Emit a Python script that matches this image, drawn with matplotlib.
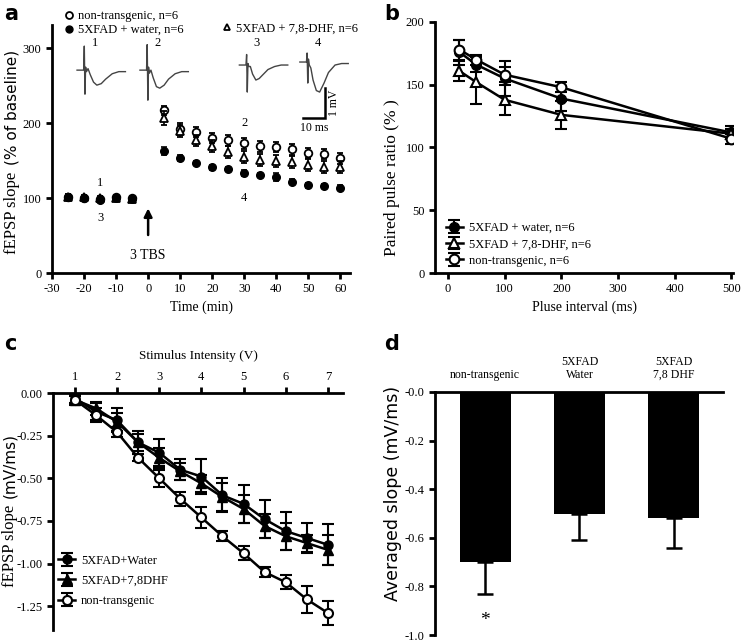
import numpy as np
import matplotlib.pyplot as plt
from matplotlib.lines import Line2D

plt.rcParams["font.family"] = ["Liberation Serif", "DejaVu Serif"]
plt.rcParams["font.size"] = 9
plt.rcParams["axes.unicode_minus"] = False
plt.rcParams["axes.linewidth"] = 2.0
plt.rcParams["xtick.major.width"] = 2.0
plt.rcParams["ytick.major.width"] = 2.0
plt.rcParams["xtick.major.size"] = 4
plt.rcParams["ytick.major.size"] = 4

# ---------- data: panel a (LTP time course) ----------
time_a = [-25, -20, -15, -10, -5, 5, 10, 15, 20, 25, 30, 35, 40, 45, 50, 55, 60]
ltp_nontg = [101, 100, 99, 101, 100, 217, 192, 188, 180, 177, 173, 169, 168, 165, 160, 159, 153]
ltp_nontg_err = [4, 3, 3, 3, 3, 6, 8, 7, 7, 7, 7, 7, 7, 7, 7, 7, 7]
ltp_water = [102, 100, 98, 100, 99, 163, 153, 147, 141, 139, 133, 131, 128, 122, 117, 116, 114]
ltp_water_err = [3, 3, 3, 3, 3, 5, 4, 3, 3, 3, 4, 3, 5, 3, 3, 3, 3]
ltp_dhf = [101, 101, 100, 100, 99, 207, 190, 177, 169, 161, 155, 151, 150, 148, 144, 142, 141]
ltp_dhf_err = [4, 3, 3, 3, 3, 9, 8, 7, 8, 8, 8, 8, 8, 8, 8, 8, 8]

# example fEPSP traces (ms, mV) shown above panel a
trace_t = [0, 3, 3.3, 3.6, 3.9, 4.3, 5, 6, 7.5, 9, 11, 13, 16, 19, 22]
trace_1 = [0, 0, 0.8, -0.8, 0.1, -0.05, 0.05, -0.15, -0.4, -0.5, -0.45, -0.3, -0.12, -0.05, -0.05]
trace_2 = [0, 0, 0.85, -1.0, 0.1, -0.1, 0.0, -0.25, -0.55, -0.6, -0.5, -0.3, -0.12, -0.05, -0.05]
trace_3 = [0, 0, 0.35, -0.9, 0.05, -0.05, -0.05, -0.3, -0.5, -0.45, -0.3, -0.15, -0.05, 0, 0]
trace_4 = [0, 0, 0.3, -0.7, 0.1, -0.1, -0.2, -0.6, -0.95, -1.0, -0.7, -0.35, -0.1, -0.05, -0.05]
traces = [trace_1, trace_2, trace_3, trace_4]
trace_names = ["1", "2", "3", "4"]

# ---------- data: panel b (paired pulse) ----------
interval_b = [20, 50, 100, 200, 500]
ppr_water = [176, 166, 155, 139, 112]
ppr_water_err = [10, 6, 14, 10, 5]
ppr_dhf = [161, 152, 138, 126, 111]
ppr_dhf_err = [8, 17, 12, 11, 4]
ppr_nontg = [178, 170, 158, 148, 107]
ppr_nontg_err = [8, 4, 6, 4, 4]

# ---------- data: panel c (input/output) ----------
stim_v = [1, 1.5, 2, 2.5, 3, 3.5, 4, 4.5, 5, 5.5, 6, 6.5, 7]
io_water = [-0.03, -0.11, -0.16, -0.29, -0.35, -0.45, -0.49, -0.60, -0.65, -0.74, -0.81, -0.85, -0.89]
io_water_err = [0.03, 0.05, 0.07, 0.07, 0.08, 0.06, 0.10, 0.10, 0.11, 0.11, 0.11, 0.09, 0.12]
io_dhf = [-0.04, -0.09, -0.17, -0.29, -0.38, -0.46, -0.53, -0.61, -0.68, -0.78, -0.84, -0.88, -0.92]
io_dhf_err = [0.03, 0.04, 0.05, 0.05, 0.06, 0.05, 0.05, 0.08, 0.08, 0.07, 0.08, 0.05, 0.09]
io_nontg = [-0.04, -0.13, -0.23, -0.38, -0.50, -0.62, -0.73, -0.84, -0.94, -1.05, -1.11, -1.21, -1.29]
io_nontg_err = [0.02, 0.04, 0.03, 0.02, 0.05, 0.04, 0.06, 0.03, 0.04, 0.03, 0.04, 0.08, 0.07]

# ---------- data: panel d (averaged slope) ----------
groups = ["non-transgenic", "5XFAD\nWater", "5XFAD\n7,8 DHF"]
avg_slope = [-0.70, -0.50, -0.52]
avg_err = [0.13, 0.11, 0.12]

W, H = 746, 641
fig = plt.figure(figsize=(W / 100, H / 100), dpi=100)


def px_axes(x0, y0, x1, y1):
    # pixel box (top-left origin) -> figure axes
    return fig.add_axes([x0 / W, 1 - y1 / H, (x1 - x0) / W, (y1 - y0) / H])


def px_text(x, y, s, **kw):
    return fig.text(x / W, 1 - y / H, s, **kw)


def open_style(ax):
    for s in ["top", "right"]:
        ax.spines[s].set_visible(False)
    ax.tick_params(direction="out", labelsize=9)


# ---------- panel a ----------
ax = px_axes(52, 25, 350, 273)
open_style(ax)
kw = dict(ls="none", ms=5.5, mec="black", ecolor="black", elinewidth=1.2, capsize=2.5, capthick=1.2)
ax.errorbar(time_a, ltp_nontg, yerr=ltp_nontg_err, marker="o", mfc="white", mew=1.3, zorder=3, **kw)
ax.errorbar(time_a, ltp_dhf, yerr=ltp_dhf_err, marker="^", mfc="white", mew=1.3, zorder=4, **kw)
ax.errorbar(time_a, ltp_water, yerr=ltp_water_err, marker="o", mfc="black", zorder=5, **kw)
ax.set_xlim(-30, 63)
ax.set_ylim(0, 331)
ax.set_xticks(range(-30, 61, 10))
ax.set_yticks([0, 100, 200, 300])
ax.set_xlabel("Time (min)", fontsize=10)
px_text(12, 254, "fEPSP slope", rotation=90, ha="center", va="bottom", fontsize=12)
px_text(12, 165, "(% of baseline)", rotation=90, ha="center", va="bottom", fontsize=11,
        family="DejaVu Sans")
ax.annotate("", xy=(0, 90), xytext=(0, 47),
            arrowprops=dict(arrowstyle="-|>", color="black", lw=1.8, mutation_scale=12))
ax.text(0, 24, "3 TBS", ha="center", va="center", fontsize=10)
ax.text(-15, 120, "1", ha="center", va="center", fontsize=9)
ax.text(-15, 73, "3", ha="center", va="center", fontsize=9)
ax.text(30, 200, "2", ha="center", va="center", fontsize=9)
ax.text(30, 100, "4", ha="center", va="center", fontsize=9)

# traces overlay (ms / mV)
tr = px_axes(70, 35, 350, 135)
tr.set_xlim(0, 127.3)
tr.set_ylim(-2.33, 1.0)
tr.axis("off")
trace_x0 = [3.2, 31.8, 77, 104.5]
trace_y0 = [-0.17, -0.17, 0.0, 0.1]
for v, name, dx, dy in zip(traces, trace_names, trace_x0, trace_y0):
    tr.plot(np.array(trace_t) + dx, np.array(v) + dy, color="#444444", lw=1.0)
    tr.text(dx + 8, 0.75, name, ha="center", va="center", fontsize=9)
tr.plot([106, 116, 116], [-1.77, -1.77, -0.77], color="black", lw=1.8, solid_joinstyle="miter")
tr.text(111, -2.1, "10 ms", ha="center", va="center", fontsize=8.5)
tr.text(120, -1.27, "1 mV", ha="center", va="center", rotation=90, fontsize=8.5)

h_nt = Line2D([], [], ls="none", marker="o", mfc="white", mec="black", ms=5, mew=1.3)
h_wa = Line2D([], [], ls="none", marker="o", mfc="black", mec="black", ms=5)
h_dh = Line2D([], [], ls="none", marker="^", mfc="white", mec="black", ms=5, mew=1.3)
fig.legend([h_nt, h_wa], ["non-transgenic, n=6", "5XFAD + water, n=6"], loc="upper left",
           bbox_to_anchor=(58 / W, 1 - 4 / H), frameon=False, fontsize=9, handlelength=0.8,
           handletextpad=0.3, labelspacing=0.15, borderpad=0)
fig.legend([h_dh], ["5XFAD + 7,8-DHF, n=6"], loc="upper left",
           bbox_to_anchor=(216 / W, 1 - 16 / H), frameon=False, fontsize=9, handlelength=0.8,
           handletextpad=0.3, borderpad=0)

# ---------- panel b ----------
ax = px_axes(435, 22, 733, 273)
open_style(ax)
kw = dict(color="black", lw=1.8, ms=7, mec="black", ecolor="black", elinewidth=1.5, capsize=4, capthick=1.5)
ax.errorbar(interval_b, ppr_water, yerr=ppr_water_err, marker="o", mfc="black",
            label="5XFAD + water, n=6", **kw)
ax.errorbar(interval_b, ppr_dhf, yerr=ppr_dhf_err, marker="^", mfc="white", mew=1.5,
            label="5XFAD + 7,8-DHF, n=6", **kw)
ax.errorbar(interval_b, ppr_nontg, yerr=ppr_nontg_err, marker="o", mfc="white", mew=1.5,
            label="non-transgenic, n=6", **kw)
ax.set_xlim(-23, 503)
ax.set_ylim(0, 200)
ax.set_xticks(range(0, 501, 100))
ax.set_yticks(range(0, 201, 50))
ax.set_xlabel("Pluse interval (ms)", fontsize=10)
px_text(392, 178, "Paired pulse ratio (% )", rotation=90, ha="center", va="center", fontsize=12.5)
ax.legend(loc="lower left", bbox_to_anchor=(0.0, -0.02), frameon=False, fontsize=9,
          handlelength=1.3, handletextpad=0.5, labelspacing=0.35)

# ---------- panel c ----------
ax = px_axes(53, 393, 343, 630)
for s in ["bottom", "right"]:
    ax.spines[s].set_visible(False)
ax.xaxis.tick_top()
ax.xaxis.set_label_position("top")
ax.tick_params(direction="out", labelsize=9)
kw = dict(color="black", lw=1.8, ms=6.5, mec="black", ecolor="black", elinewidth=1.5, capsize=4, capthick=1.5)
ax.errorbar(stim_v, io_water, yerr=io_water_err, marker="o", mfc="black", label="5XFAD+Water", **kw)
ax.errorbar(stim_v, io_dhf, yerr=io_dhf_err, marker="^", mfc="black", label="5XFAD+7,8DHF", **kw)
ax.errorbar(stim_v, io_nontg, yerr=io_nontg_err, marker="o", mfc="white", mew=1.5,
            label="non-transgenic", **kw)
ax.set_xlim(0.48, 7.36)
ax.set_ylim(-1.39, 0.0)
ax.set_xticks(range(1, 8))
ax.set_yticks([0, -0.25, -0.5, -0.75, -1.0, -1.25])
ax.set_yticklabels(["0.00", "-0.25", "-0.50", "-0.75", "-1.00", "-1.25"])
ax.set_xlabel("Stimulus Intensity (V)", fontsize=9.5, labelpad=8)
px_text(10, 587, "fEPSP slope", rotation=90, ha="center", va="bottom", fontsize=12)
px_text(10, 498, "(mV/ms)", rotation=90, ha="center", va="bottom", fontsize=11,
        family="DejaVu Sans")
ax.legend(loc="lower left", bbox_to_anchor=(-0.02, 0.05), frameon=False, fontsize=9,
          handlelength=1.3, handletextpad=0.5, labelspacing=0.65)

# ---------- panel d ----------
ax = px_axes(435, 392, 723, 635)
for s in ["bottom", "right"]:
    ax.spines[s].set_visible(False)
xpos = np.arange(len(groups))
ax.bar(xpos, avg_slope, width=0.54, color="black")
ax.errorbar(xpos, avg_slope, yerr=[avg_err, [0] * len(avg_err)], ls="none", ecolor="black",
            elinewidth=1.8, capsize=6, capthick=1.8)
ax.xaxis.tick_top()
ax.set_xticks(xpos)
ax.set_xticklabels(groups, fontsize=8.5, linespacing=1.1)
ax.tick_params(axis="x", length=0, pad=8)
ax.tick_params(axis="y", direction="out", labelsize=9)
ax.set_xlim(-0.53, 2.52)
ax.set_ylim(-1.0, 0.0)
ax.set_yticks([0, -0.2, -0.4, -0.6, -0.8, -1.0])
ax.set_yticklabels(["-0.0", "-0.2", "-0.4", "-0.6", "-0.8", "-1.0"])
px_text(393, 493, "Averaged slope (mV/ms)", rotation=90, ha="center", va="center",
        fontsize=12.5, family="DejaVu Sans")
ax.text(xpos[0], avg_slope[0] - avg_err[0] - 0.11, "*", ha="center", va="center", fontsize=14)

# panel letters
for lab, x, y in [("a", 4, 14), ("b", 384, 14), ("c", 4, 344), ("d", 384, 344)]:
    px_text(x, y, lab, fontsize=15, fontweight="bold", family="DejaVu Sans", va="center", ha="left")

fig.savefig("out.png", dpi=100)
